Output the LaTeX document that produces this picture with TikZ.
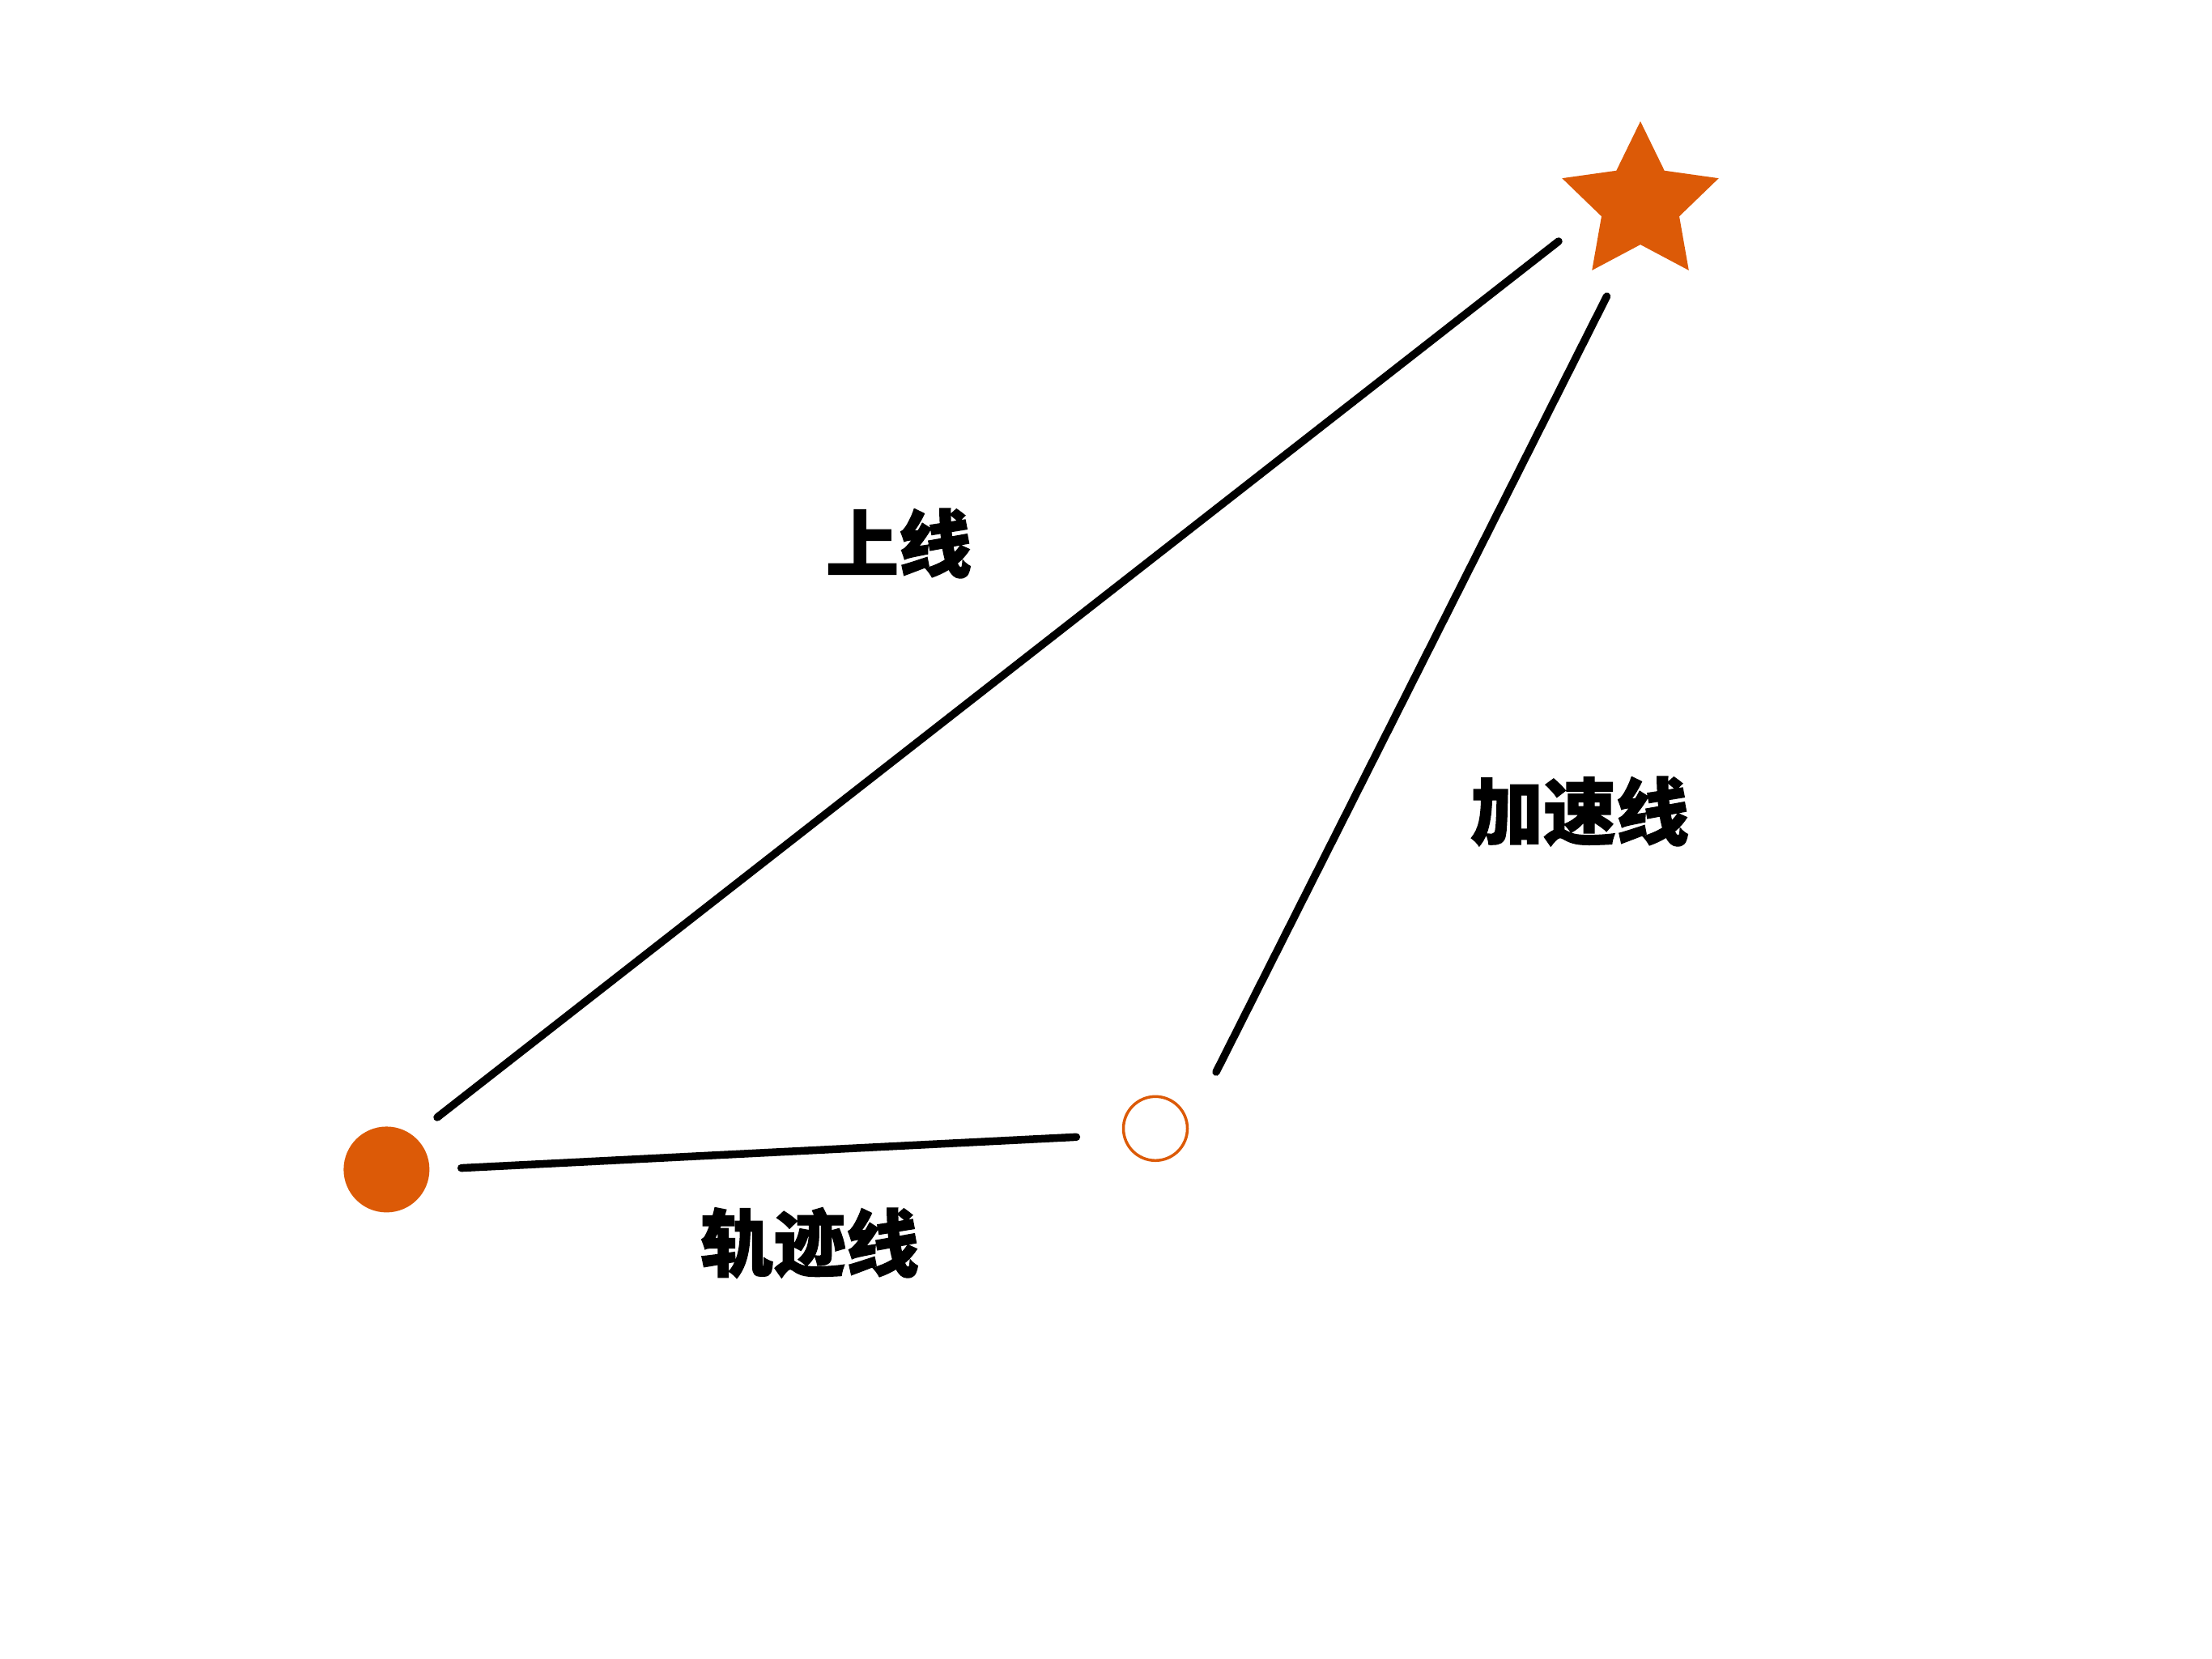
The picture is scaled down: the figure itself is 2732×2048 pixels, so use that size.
\documentclass[tikz,border=0pt]{standalone}
\usepackage{fontspec}
\newfontfamily\cjk{Noto Sans CJK SC}[BoldFeatures={FakeBold=1.5}]
\usetikzlibrary{shapes.geometric}
\definecolor{orng}{HTML}{DC5A07}
\begin{document}
\begin{tikzpicture}[x=1pt,y=-1pt,
  conn/.style={line width=9.5pt, line cap=round, draw=black},
  lbl/.style={font=\cjk\bfseries\fontsize{90}{90}\selectfont, inner sep=0pt, text=black}]
\fill[white] (0,0) rectangle (2732,2048);
\path[use as bounding box] (0,0) rectangle (2732,2048);
% star
\coordinate (star) at (2026,251.6);
\begin{scope}[shift={(star)}]
\fill[orng] (90:101.7pt) -- (126:50.5pt) -- (162:101.7pt) -- (198:50.5pt) -- (234:101.7pt) -- (270:50.5pt) -- (306:101.7pt) -- (342:50.5pt) -- (18:101.7pt) -- (54:50.5pt) -- cycle;
\end{scope}
% points
\node[circle, fill=orng, minimum size=106pt, inner sep=0pt] (start) at (477.4,1444.4) {};
\node[circle, draw=orng, line width=3.5pt, minimum size=79pt, inner sep=0pt] (mid) at (1427,1393.8) {};
% connector end points
\coordinate (a1) at (540,1380);
\coordinate (a2) at (1925,298);
\coordinate (b1) at (1502,1324);
\coordinate (b2) at (1984.5,366);
\coordinate (c1) at (569.7,1442.6);
\coordinate (c2) at (1329.4,1404.3);
\draw[conn] (a1) -- (a2);
\draw[conn] (b1) -- (b2);
\draw[conn] (c1) -- (c2);
% labels
\node[lbl] (lup) at (1110,671) {上线};
\node[lbl] (lacc) at (1951,1002) {加速线};
\node[lbl] (ltrk) at (1000,1535) {轨迹线};
\end{tikzpicture}
\end{document}
